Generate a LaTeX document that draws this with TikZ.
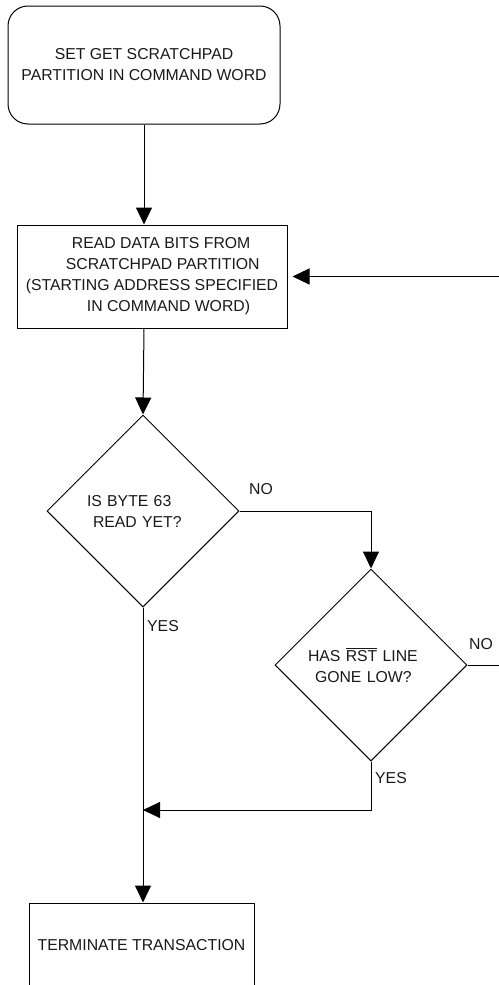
\documentclass[tikz,border=0pt]{standalone}
\usepackage{fontspec}
\setmainfont{Liberation Sans}
\usetikzlibrary{arrows.meta,shapes.geometric}
\begin{document}
\begin{tikzpicture}[x=0.75pt,y=-0.75pt,
  every node/.style={font=\fontsize{11.85pt}{15.75pt}\selectfont, text=black!90},
  boxstyle/.style={draw, line width=0.75pt, align=center, inner sep=0pt},
  decision/.style={draw, diamond, line width=0.75pt, align=left, inner sep=0pt, minimum width=144pt, minimum height=144pt},
  conn/.style={line width=0.75pt},
  arr/.style={conn, -{Triangle[length=12.75pt,width=12pt]}},
  lbl/.style={inner sep=0pt}]
\useasboundingbox (0,0) rectangle (499,985);
\clip (0,0) rectangle (499,985);
\node[boxstyle, rounded corners=15pt, minimum width=204pt, minimum height=88.5pt] (start) at (144,65)
  {SET GET SCRATCHPAD\\PARTITION IN COMMAND WORD};
\node[boxstyle, align=left, minimum width=202.5pt, minimum height=77.25pt] (read) at (152,276.5)
  {\hspace*{34.5pt}READ DATA BITS FROM\\\hspace*{30pt}SCRATCHPAD PARTITION\\(STARTING ADDRESS SPECIFIED\\\hspace*{45.75pt}IN COMMAND WORD)};
\node[decision, text width=84pt] (d1) at (143,511) {IS BYTE 63\\\hspace*{4.5pt}READ YET?};
\node[decision, text width=94.5pt] (d2) at (371,665) {HAS $\overline{\mbox{RST}}$ LINE\\\hspace*{5.25pt}GONE LOW?};
\node[boxstyle, minimum width=168.75pt, minimum height=63pt] (term) at (141.5,945) {TERMINATE TRANSACTION};
\coordinate (rc) at (530,276.5);
\coordinate (merge) at (143,810);
\node[lbl] (no1) at (261,489) {NO};
\node[lbl] (yes1) at (163,626) {YES};
\node[lbl] (no2) at (481,644) {NO};
\node[lbl] (yes2) at (391,778) {YES};
\draw[arr] (start.south) -- (start.south |- read.north);
\draw[arr] (start.south |- read.south) -- (d1.north);
\draw[arr] (d1.east) -| (d2.north);
\draw[arr, shorten >=3.75pt] (d2.east) -| (rc) -- (read.east);
\draw[arr] (d2.south) |- (merge);
\draw[arr] (d1.south) -- (d1.south |- term.north);
\end{tikzpicture}
\end{document}
